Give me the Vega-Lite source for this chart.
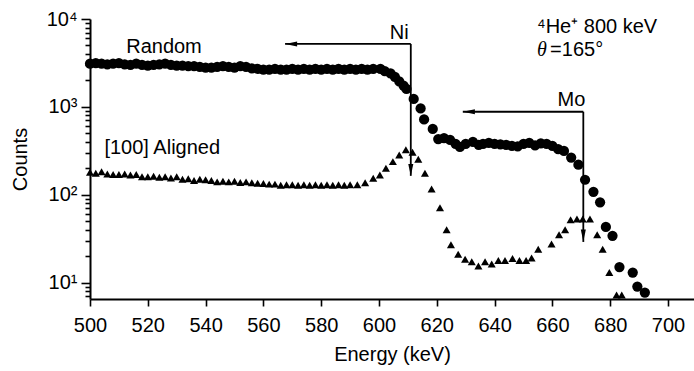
{
  "$schema": "https://vega.github.io/schema/vega-lite/v6.json",
  "width": 604,
  "height": 280,
  "autosize": {"type": "none"},
  "padding": {"left": 90, "top": 19, "right": 0, "bottom": 72},
  "background": "white",
  "config": {
    "view": {"stroke": null},
    "font": "Liberation Sans",
    "axis": {"domainColor": "black", "tickColor": "black", "labelColor": "black", "titleColor": "black", "domainWidth": 2, "tickWidth": 1.6, "grid": false, "labelFont": "Liberation Sans", "titleFont": "Liberation Sans", "labelFontSize": 20, "titleFontSize": 20, "titleFontWeight": "normal"}
  },
  "datasets": {
    "random": [
      {"E": 500, "c": 3100}, {"E": 502, "c": 3150}, {"E": 504, "c": 3100}, {"E": 506, "c": 3050}, {"E": 508, "c": 3100},
      {"E": 510, "c": 3150}, {"E": 512, "c": 3050}, {"E": 514, "c": 3000}, {"E": 516, "c": 3100}, {"E": 518, "c": 3000},
      {"E": 520, "c": 2950}, {"E": 522, "c": 3000}, {"E": 524, "c": 3050}, {"E": 526, "c": 3100}, {"E": 528, "c": 3000},
      {"E": 530, "c": 2950}, {"E": 532, "c": 2950}, {"E": 534, "c": 2900}, {"E": 536, "c": 2900}, {"E": 538, "c": 2850},
      {"E": 540, "c": 2800}, {"E": 542, "c": 2800}, {"E": 544, "c": 2850}, {"E": 546, "c": 2900}, {"E": 548, "c": 2850},
      {"E": 550, "c": 2800}, {"E": 552, "c": 2900}, {"E": 554, "c": 2850}, {"E": 556, "c": 2750}, {"E": 558, "c": 2700},
      {"E": 560, "c": 2650}, {"E": 562, "c": 2650}, {"E": 564, "c": 2700}, {"E": 566, "c": 2650}, {"E": 568, "c": 2650},
      {"E": 570, "c": 2700}, {"E": 572, "c": 2650}, {"E": 574, "c": 2700}, {"E": 576, "c": 2650}, {"E": 578, "c": 2700},
      {"E": 580, "c": 2650}, {"E": 582, "c": 2700}, {"E": 584, "c": 2650}, {"E": 586, "c": 2700}, {"E": 588, "c": 2650},
      {"E": 590, "c": 2700}, {"E": 592, "c": 2650}, {"E": 594, "c": 2700}, {"E": 596, "c": 2650}, {"E": 598, "c": 2700},
      {"E": 600.5, "c": 2700}, {"E": 602, "c": 2550}, {"E": 604, "c": 2400}, {"E": 605.5, "c": 2200}, {"E": 607, "c": 1950},
      {"E": 608.5, "c": 1750}, {"E": 609.5, "c": 1600}, {"E": 612, "c": 1230}, {"E": 614.4, "c": 960}, {"E": 615.6, "c": 720},
      {"E": 618.6, "c": 560}, {"E": 620.5, "c": 430}, {"E": 622.5, "c": 440}, {"E": 624.6, "c": 420}, {"E": 626.5, "c": 380},
      {"E": 628, "c": 350}, {"E": 630, "c": 380}, {"E": 632.5, "c": 400}, {"E": 634.5, "c": 370}, {"E": 636, "c": 380},
      {"E": 638, "c": 390}, {"E": 640, "c": 380}, {"E": 642, "c": 375}, {"E": 644, "c": 370}, {"E": 646, "c": 360},
      {"E": 648, "c": 355}, {"E": 650, "c": 380}, {"E": 652, "c": 390}, {"E": 654, "c": 365}, {"E": 656, "c": 385},
      {"E": 658, "c": 380}, {"E": 660, "c": 360}, {"E": 662, "c": 330}, {"E": 664, "c": 315}, {"E": 666.5, "c": 265},
      {"E": 669, "c": 220}, {"E": 671.3, "c": 148}, {"E": 674.2, "c": 108}, {"E": 676.5, "c": 82}, {"E": 678.5, "c": 43},
      {"E": 680.8, "c": 34}, {"E": 683.2, "c": 15}, {"E": 687.8, "c": 13}, {"E": 689.4, "c": 9}, {"E": 692, "c": 7.7}
    ],
    "aligned": [
      {"E": 500, "c": 180}, {"E": 502, "c": 175}, {"E": 504, "c": 182}, {"E": 506, "c": 172}, {"E": 508, "c": 170},
      {"E": 510, "c": 170}, {"E": 512, "c": 172}, {"E": 514, "c": 168}, {"E": 516, "c": 170}, {"E": 518, "c": 160},
      {"E": 520, "c": 160}, {"E": 522, "c": 162}, {"E": 524, "c": 158}, {"E": 526, "c": 160}, {"E": 528, "c": 155},
      {"E": 530, "c": 160}, {"E": 532, "c": 150}, {"E": 534, "c": 152}, {"E": 536, "c": 145}, {"E": 538, "c": 150},
      {"E": 540, "c": 148}, {"E": 542, "c": 145}, {"E": 544, "c": 140}, {"E": 546, "c": 142}, {"E": 548, "c": 140},
      {"E": 550, "c": 142}, {"E": 552, "c": 138}, {"E": 554, "c": 140}, {"E": 556, "c": 137}, {"E": 558, "c": 135},
      {"E": 560, "c": 134}, {"E": 562, "c": 132}, {"E": 564, "c": 132}, {"E": 566, "c": 128}, {"E": 568, "c": 130},
      {"E": 570, "c": 130}, {"E": 572, "c": 128}, {"E": 574, "c": 130}, {"E": 576, "c": 128}, {"E": 578, "c": 130},
      {"E": 580, "c": 128}, {"E": 582, "c": 130}, {"E": 584, "c": 128}, {"E": 586, "c": 130}, {"E": 588, "c": 128},
      {"E": 590, "c": 130}, {"E": 592.5, "c": 130}, {"E": 595.2, "c": 137}, {"E": 598, "c": 154}, {"E": 600.3, "c": 168},
      {"E": 602.4, "c": 200}, {"E": 604.8, "c": 238}, {"E": 607, "c": 283}, {"E": 609.3, "c": 325}, {"E": 611.6, "c": 305},
      {"E": 613.6, "c": 254}, {"E": 615.9, "c": 176}, {"E": 618.2, "c": 116}, {"E": 621.1, "c": 71}, {"E": 623.4, "c": 40},
      {"E": 624.9, "c": 27}, {"E": 627.4, "c": 21}, {"E": 629.8, "c": 18.4}, {"E": 632.1, "c": 17.3}, {"E": 634.4, "c": 15.4},
      {"E": 636.7, "c": 17.3}, {"E": 639, "c": 16.3}, {"E": 641.3, "c": 17.8}, {"E": 643.6, "c": 17.8}, {"E": 646.2, "c": 18.8},
      {"E": 648.6, "c": 17.8}, {"E": 650.9, "c": 17.8}, {"E": 652.8, "c": 19}, {"E": 655.1, "c": 24}, {"E": 659.7, "c": 27.5},
      {"E": 662.3, "c": 35}, {"E": 664.4, "c": 40}, {"E": 666.3, "c": 52}, {"E": 668.5, "c": 53}, {"E": 670.5, "c": 53},
      {"E": 673, "c": 53}, {"E": 675.5, "c": 35}, {"E": 677.4, "c": 24}, {"E": 679.7, "c": 13}, {"E": 682.2, "c": 7.2},
      {"E": 684, "c": 7.2}
    ],
    "segments": [
      {"x1": 611, "x2": 567.5, "y1": 5200, "y2": 5200},
      {"x1": 611, "x2": 611, "y1": 5200, "y2": 164},
      {"x1": 670.7, "x2": 629, "y1": 880, "y2": 880},
      {"x1": 670.7, "x2": 670.7, "y1": 880, "y2": 29}
    ],
    "leftHeads": [{"E": 569.6, "c": 5200}, {"E": 631.1, "c": 880}],
    "downHeads": [{"E": 611, "c": 191}, {"E": 670.7, "c": 34.3}],
    "centerLabels": [
      {"E": 525.6, "c": 4800, "t": "Random"},
      {"E": 525, "c": 340, "t": "[100] Aligned"},
      {"E": 607, "c": 6930, "t": "Ni"},
      {"E": 666.6, "c": 1200, "t": "Mo"}
    ],
    "leftLabels": [
      {"E": 654.7, "c": 8110, "t": "⁴He⁺ 800 keV"},
      {"E": 659.2, "c": 4440, "t": "=165°"}
    ],
    "italicLabels": [
      {"E": 654.7, "c": 4440, "t": "θ"}
    ]
  },
  "layer": [
    {
      "data": {"name": "random"},
      "mark": {"type": "point", "shape": "circle", "filled": true, "color": "black", "size": 105, "opacity": 1},
      "encoding": {
        "x": {"field": "E", "type": "quantitative", "scale": {"domain": [500, 709], "nice": false, "zero": false},
          "axis": {"title": "Energy (keV)", "values": [500, 510, 520, 530, 540, 550, 560, 570, 580, 590, 600, 610, 620, 630, 640, 650, 660, 670, 680, 690, 700],
            "labelExpr": "datum.value % 20 == 0 ? datum.label : ''",
            "tickSize": {"condition": {"test": "datum.value % 20 == 0", "value": 7}, "value": 5},
            "labelPadding": 9, "titlePadding": 9, "labelFlush": false}},
        "y": {"field": "c", "type": "quantitative", "scale": {"type": "log", "domain": [6.5, 10000], "nice": false},
          "axis": {"title": "Counts", "values": [7, 8, 9, 10, 20, 30, 40, 50, 60, 70, 80, 90, 100, 200, 300, 400, 500, 600, 700, 800, 900, 1000, 2000, 3000, 4000, 5000, 6000, 7000, 8000, 9000, 10000],
            "labelExpr": "datum.value == 10 ? '10¹' : datum.value == 100 ? '10²' : datum.value == 1000 ? '10³' : datum.value == 10000 ? '10⁴' : ''",
            "tickSize": {"condition": {"test": "datum.value == 10 || datum.value == 100 || datum.value == 1000 || datum.value == 10000", "value": 9}, "value": 5},
            "labelPadding": 4, "titlePadding": 16, "labelFlush": false}}
      }
    },
    {
      "data": {"name": "aligned"},
      "mark": {"type": "point", "shape": "triangle-up", "filled": true, "color": "black", "size": 65, "opacity": 1},
      "encoding": {
        "x": {"field": "E", "type": "quantitative"},
        "y": {"field": "c", "type": "quantitative"}
      }
    },
    {
      "data": {"name": "segments"},
      "mark": {"type": "rule", "color": "black", "strokeWidth": 1.8},
      "encoding": {
        "x": {"field": "x1", "type": "quantitative"},
        "x2": {"field": "x2"},
        "y": {"field": "y1", "type": "quantitative"},
        "y2": {"field": "y2"}
      }
    },
    {
      "data": {"name": "leftHeads"},
      "mark": {"type": "point", "shape": "M-1,0L1,-0.42L1,0.42Z", "filled": true, "color": "black", "size": 144, "opacity": 1},
      "encoding": {
        "x": {"field": "E", "type": "quantitative"},
        "y": {"field": "c", "type": "quantitative"}
      }
    },
    {
      "data": {"name": "downHeads"},
      "mark": {"type": "point", "shape": "M0,1L-0.42,-1L0.42,-1Z", "filled": true, "color": "black", "size": 144, "opacity": 1},
      "encoding": {
        "x": {"field": "E", "type": "quantitative"},
        "y": {"field": "c", "type": "quantitative"}
      }
    },
    {
      "data": {"name": "centerLabels"},
      "mark": {"type": "text", "color": "black", "fontSize": 20, "baseline": "middle", "align": "center", "font": "Liberation Sans"},
      "encoding": {
        "x": {"field": "E", "type": "quantitative"},
        "y": {"field": "c", "type": "quantitative"},
        "text": {"field": "t"}
      }
    },
    {
      "data": {"name": "leftLabels"},
      "mark": {"type": "text", "color": "black", "fontSize": 20, "baseline": "middle", "align": "left", "font": "Liberation Sans"},
      "encoding": {
        "x": {"field": "E", "type": "quantitative"},
        "y": {"field": "c", "type": "quantitative"},
        "text": {"field": "t"}
      }
    },
    {
      "data": {"name": "italicLabels"},
      "mark": {"type": "text", "color": "black", "fontSize": 20, "baseline": "middle", "align": "left", "fontStyle": "italic", "font": "Liberation Serif"},
      "encoding": {
        "x": {"field": "E", "type": "quantitative"},
        "y": {"field": "c", "type": "quantitative"},
        "text": {"field": "t"}
      }
    }
  ]
}
